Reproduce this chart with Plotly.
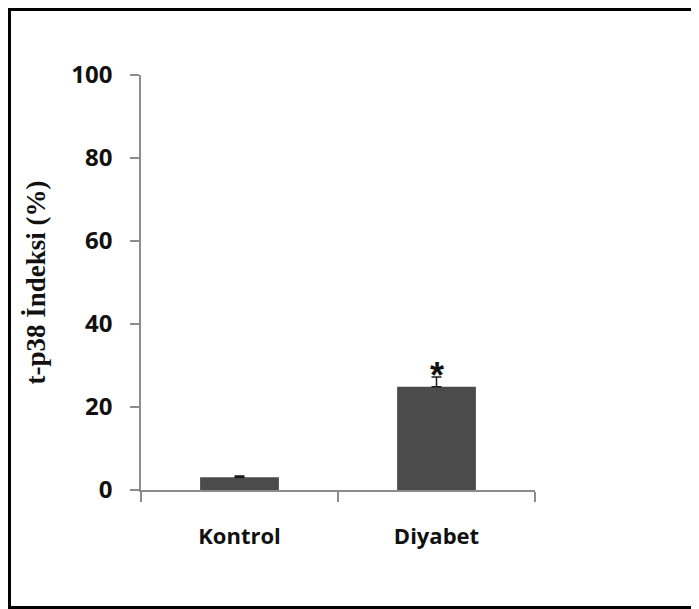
import plotly.graph_objects as go

categories = ["Kontrol", "Diyabet"]
values = [3.1, 24.9]
err_plus = [0.3, 2.3]
y_ticks = [0, 20, 40, 60, 80, 100]
y_title = "t-p38 İndeksi (%)"
sig_marks = ["", "*"]

W, H = 691, 601
ml, mr, mt, mb = 133, 164, 67, 119

fig = go.Figure()
fig.add_trace(go.Bar(
    x=categories, y=values,
    marker=dict(color="#4b4b4b", line=dict(width=0)),
    error_y=dict(type="data", symmetric=False, array=err_plus,
                 arrayminus=[0, 0], color="#1a1a1a", thickness=1.5, width=5),
    width=0.4,
))

for c, v, e, s in zip(categories, values, err_plus, sig_marks):
    if s:
        fig.add_annotation(x=c, y=v + e, text="<b>" + s + "</b>", showarrow=False,
                           yanchor="bottom", yshift=-21,
                           font=dict(family="Liberation Sans", size=36, color="#111111"))

pw = W - ml - mr
ph = H - mt - mb
def px(xp):
    return (xp - ml) / pw
def py(yp):
    return (H - mb - yp) / ph

fig.add_shape(type="line", xref="paper", yref="paper",
              x0=px(1.5), x1=px(1.5), y0=py(0), y1=py(599.5),
              line=dict(color="black", width=3))
fig.add_shape(type="line", xref="paper", yref="paper",
              x0=px(0), x1=px(687), y0=py(1.5), y1=py(1.5),
              line=dict(color="black", width=3))
fig.add_shape(type="line", xref="paper", yref="paper",
              x0=px(0), x1=px(691), y0=py(599.5), y1=py(599.5),
              line=dict(color="black", width=3))

fig.update_layout(
    width=W, height=H,
    margin=dict(l=ml, r=mr, t=mt, b=mb),
    paper_bgcolor="white", plot_bgcolor="white",
    showlegend=False,
    xaxis=dict(
        type="category", range=[-0.5, 1.5],
        showline=True, linecolor="#8c8c8c", linewidth=1.5,
        ticks="outside", tickson="boundaries", ticklen=10, tickcolor="#8c8c8c", tickwidth=1.5,
        tickfont=dict(family="Open Sans", size=22, color="#111111", weight="bold"),
        ticklabelstandoff=26,
        showgrid=False, zeroline=False,
    ),
    yaxis=dict(
        range=[0, 100], tickvals=y_ticks,
        showline=True, linecolor="#8c8c8c", linewidth=1.5,
        ticks="outside", ticklen=9, tickcolor="#8c8c8c", tickwidth=1.5,
        tickfont=dict(family="Open Sans", size=24, color="#111111", weight="bold"),
        ticklabelstandoff=13,
        showgrid=False, zeroline=False,
        title=dict(text=y_title, standoff=18,
                   font=dict(family="Liberation Serif", size=27, color="#111111", weight="bold")),
    ),
)

fig.write_html("out.html")
